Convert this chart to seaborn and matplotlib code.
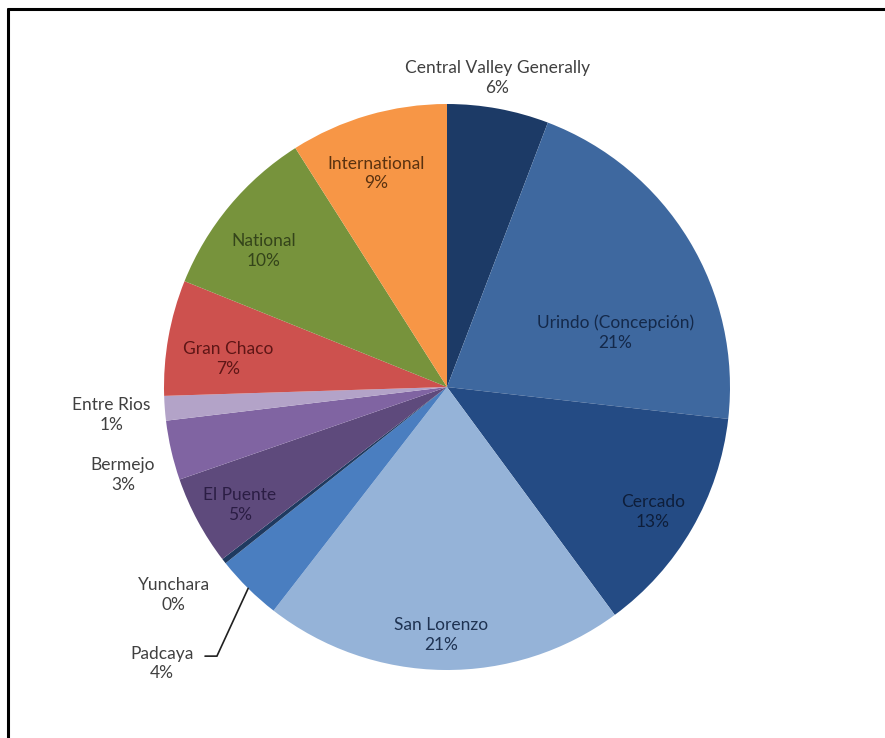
import matplotlib
matplotlib.use("Agg")
import matplotlib.pyplot as plt
import seaborn as sns
import numpy as np
from matplotlib.lines import Line2D

# Share of responses by place of origin (percent), clockwise from 12 o'clock
regions = ["Central Valley Generally", "Urindo (Concepción)", "Cercado", "San Lorenzo",
           "Padcaya", "Yunchara", "El Puente", "Bermejo", "Entre Rios",
           "Gran Chaco", "National", "International"]
shares = [5.8, 21.0, 13.1, 20.6, 3.8, 0.3, 5.1, 3.4, 1.4, 6.6, 9.9, 9.0]

slice_colors = ["#1c3a66", "#3e689f", "#244b84", "#95b3d8", "#4a7ec0", "#1f3a60",
                "#5e4a7c", "#8064a2", "#b3a3c8", "#cd514e", "#77933c", "#f79646"]
text_colors = ["#404040", "#14294a", "#0e1e3a", "#1f3352", "#404040", "#404040",
               "#2b1d44", "#404040", "#404040", "#5e1616", "#34441a", "#5a3210"]

# label centres in pie-radius units
label_pos = [(0.177, 1.092), (0.594, 0.192), (0.728, -0.442), (-0.020, -0.877),
             (-1.007, -0.977), (-0.965, -0.736), (-0.732, -0.417), (-1.145, -0.312),
             (-1.185, -0.099), (-0.772, 0.100), (-0.647, 0.481), (-0.250, 0.754)]

sns.set_theme(style="white")
plt.rcParams["font.family"] = ["Lato", "DejaVu Sans"]

W, H, dpi = 885, 738, 100
fig = plt.figure(figsize=(W / dpi, H / dpi), dpi=dpi)
fig.patch.set_facecolor("white")
ax = fig.add_axes([0, 0, 1, 1])

cx, cy, R = 447, 387, 283
wedges, _ = ax.pie(shares, colors=slice_colors, startangle=90, counterclock=False,
                   radius=1.0, center=(0, 0), frame=True,
                   wedgeprops=dict(linewidth=0))
ax.set_xlim(-cx / R, (W - cx) / R)
ax.set_ylim(-(H - cy) / R, cy / R)
ax.set_aspect("auto")
ax.set_axis_off()

for name, val, (lx, ly), tc in zip(regions, shares, label_pos, text_colors):
    ax.text(lx, ly, f"{name}\n{val:.0f}%", ha="center", va="center",
            fontsize=12.5, color=tc, linespacing=1.28)

# leader line for Padcaya
pad = regions.index("Padcaya")
w = wedges[pad]
mid = np.deg2rad((w.theta1 + w.theta2) / 2)
ex, ey = np.cos(mid), np.sin(mid)
ly0 = label_pos[pad][1] + 0.026
ax.plot([-0.855, -0.813, ex], [ly0, ly0, ey], color="#202020", lw=1.2,
        solid_joinstyle="miter")

# outer frame (top and left edges)
fig.add_artist(Line2D([8 / W, 1], [1 - 9 / H, 1 - 9 / H], color="black", lw=2.2,
                      transform=fig.transFigure))
fig.add_artist(Line2D([8 / W, 8 / W], [0, 1 - 9 / H], color="black", lw=2.2,
                      transform=fig.transFigure))

fig.savefig("out.png", dpi=dpi, facecolor="white")
